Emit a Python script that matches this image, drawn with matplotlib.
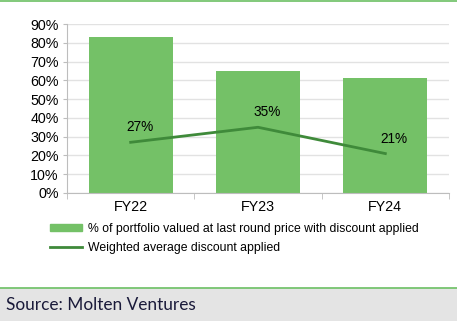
import matplotlib
matplotlib.use("Agg")
import matplotlib.pyplot as plt
from matplotlib.lines import Line2D
from matplotlib.patches import Rectangle
from matplotlib.ticker import FuncFormatter, MultipleLocator

categories = ["FY22", "FY23", "FY24"]
portfolio_pct = [83, 65, 61]
discount_pct = [27, 35, 21]
bar_label = "% of portfolio valued at last round price with discount applied"
line_label = "Weighted average discount applied"
source_text = "Source: Molten Ventures"

BAR_C = "#74c167"
LINE_C = "#3f8a3a"
W, H = 457, 321

plt.rcParams['font.family'] = ['Liberation Sans', 'DejaVu Sans']
fig = plt.figure(figsize=(W / 100, H / 100), dpi=100)

ax = fig.add_axes([67 / W, 1 - 193 / H, (449 - 67) / W, (193 - 24) / H])
x = list(range(len(categories)))
ax.bar(x, portfolio_pct, width=0.66, color=BAR_C, zorder=2, label=bar_label)
ax.plot(x, discount_pct, color=LINE_C, lw=2, zorder=3, label=line_label)
for xi, v in zip(x, discount_pct):
    ax.annotate(f"{v}%", (xi, v), xytext=(9, 15), textcoords="offset pixels",
                ha="center", va="center", fontsize=9.8, color="black", zorder=4)

ax.set_xlim(-0.5, len(categories) - 0.5)
ax.set_ylim(0, 90)
ax.yaxis.set_major_locator(MultipleLocator(10))
ax.yaxis.set_major_formatter(FuncFormatter(lambda v, p: f"{v:.0f}%"))
ax.grid(axis="y", color="#e2e2e2", lw=1, zorder=0)
ax.set_axisbelow(True)
for s in ["top", "right"]:
    ax.spines[s].set_visible(False)
for s in ["left", "bottom"]:
    ax.spines[s].set_color("#bdbdbd")
ax.set_xticks(x)
ax.set_xticklabels(categories)
ax.set_xticks([i + 0.5 for i in range(-1, len(categories))], minor=True)
ax.tick_params(axis="x", which="major", length=0, labelsize=10.3, pad=5)
ax.tick_params(axis="x", which="minor", length=4, color="#bdbdbd", direction="out")
ax.tick_params(axis="y", length=3, color="#bdbdbd", labelsize=10.3, pad=3)

handles = [Rectangle((0, 0), 1, 1, color=BAR_C),
           Line2D([], [], color=LINE_C, lw=2)]
fig.legend(handles, [bar_label, line_label], loc="upper left",
           bbox_to_anchor=(50 / W, 1 - 223 / H), frameon=False, fontsize=8.8,
           handlelength=2.6, handleheight=0.55, handletextpad=0.55,
           labelspacing=0.6, borderpad=0, borderaxespad=0)

fig.patches.append(Rectangle((0, 0), 1, 1 - 288 / H, transform=fig.transFigure,
                             color="#e4e4e4", zorder=0))
fig.lines.append(Line2D([0, 1], [1 - 288 / H] * 2, transform=fig.transFigure,
                        color="#6cc064", lw=1.2))
fig.lines.append(Line2D([0, 1], [1 - 1 / H] * 2, transform=fig.transFigure,
                        color="#6cc064", lw=1.2))
fig.text(6 / W, 1 - 305 / H, source_text, family="Lato", fontsize=12.4,
         color="#1a1a3a", va="center", ha="left")

fig.savefig("out.png", dpi=100)
